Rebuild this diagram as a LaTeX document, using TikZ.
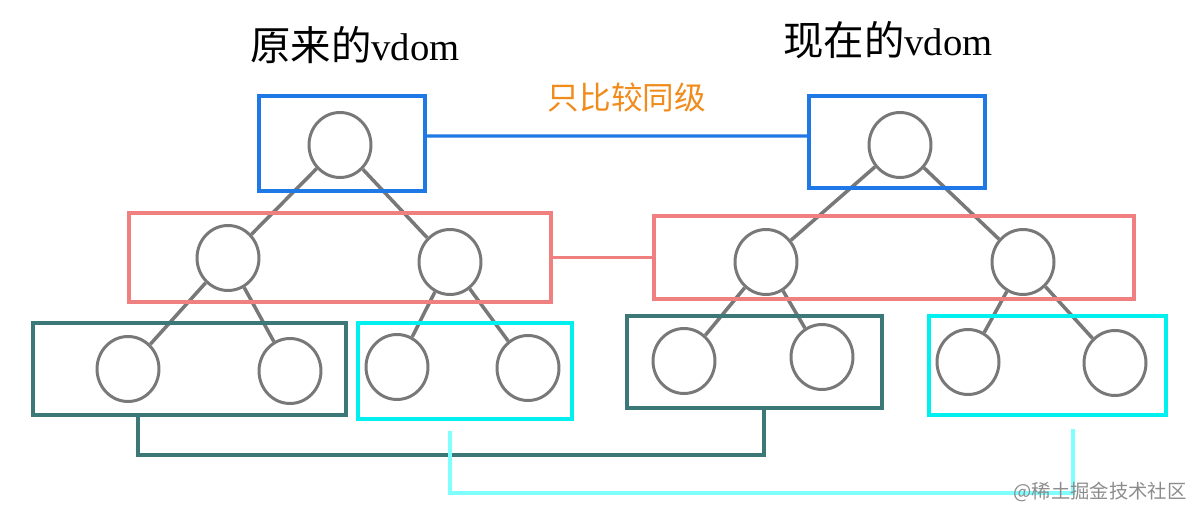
\documentclass[tikz,border=0pt]{standalone}
\usepackage{fontspec}
\usepackage{xcolor}
\usepackage{tikz}
\usetikzlibrary{shapes.geometric,positioning,calc}
\newfontfamily\cjk{Noto Sans CJK SC}
\newfontfamily\vdomfont{Liberation Serif}

\definecolor{boxblue}{RGB}{30,120,230}
\definecolor{boxred}{RGB}{240,128,128}
\definecolor{boxteal}{RGB}{60,120,120}
\definecolor{boxcyan}{RGB}{0,240,240}
\definecolor{linecyan}{RGB}{128,255,255}
\definecolor{vnode}{RGB}{120,120,120}
\definecolor{labelorange}{RGB}{240,140,30}

\begin{document}
\begin{tikzpicture}[x=0.02cm,y=-0.02cm,
	vnode/.style={ellipse, draw=vnode, line width=1.7pt, minimum width=1.24cm, minimum height=1.3cm, inner sep=0pt},
	level/.style={rectangle, draw=#1, line width=2.2pt, inner sep=0pt},
	edge/.style={draw=vnode, line width=2pt},
	link/.style={line width=1.8pt, draw=#1}]

		\useasboundingbox (0,0) rectangle (1197,517);

		% titles
		\node (titleL) at (355,45) {\fontsize{23}{26}\selectfont\cjk 原来的{\vdomfont\fontsize{22}{26}\selectfont vdom}};
		\node (titleR) at (888,40) {\fontsize{23}{26}\selectfont\cjk 现在的{\vdomfont\fontsize{22}{26}\selectfont vdom}};
		\node[text=labelorange] (same) at (627,97) {\fontsize{18}{21}\selectfont\cjk 只比较同级};

		% old vdom
		\node[vnode] (oRoot) at (340,145) {};
		\node[vnode] (oA) at (228,258) {};
		\node[vnode] (oB) at (450,262) {};
		\node[vnode] (oA1) at (128,369) {};
		\node[vnode] (oA2) at (290,371) {};
		\node[vnode] (oB1) at (397,367) {};
		\node[vnode] (oB2) at (528,368) {};

		% new vdom
		\node[vnode] (nRoot) at (900,145) {};
		\node[vnode] (nA) at (766,262) {};
		\node[vnode] (nB) at (1023,262) {};
		\node[vnode] (nA1) at (684,361) {};
		\node[vnode] (nA2) at (822,357) {};
		\node[vnode] (nB1) at (968,362) {};
		\node[vnode] (nB2) at (1115,363) {};

		\draw[edge] (oRoot) -- (oA);
		\draw[edge] (oRoot) -- (oB);
		\draw[edge] (oA) -- (oA1);
		\draw[edge] (oA) -- (oA2);
		\draw[edge] (oB) -- (oB1);
		\draw[edge] (oB) -- (oB2);
		\draw[edge] (nRoot) -- (nA);
		\draw[edge] (nRoot) -- (nB);
		\draw[edge] (nA) -- (nA1);
		\draw[edge] (nA) -- (nA2);
		\draw[edge] (nB) -- (nB1);
		\draw[edge] (nB) -- (nB2);

		% level boxes
		\node[level=boxblue, minimum width=3.32cm, minimum height=1.9cm] (oLvl1) at (342,143.5) {};
		\node[level=boxblue, minimum width=3.52cm, minimum height=1.84cm] (nLvl1) at (897,142) {};
		\node[level=boxred, minimum width=8.44cm, minimum height=1.78cm] (oLvl2) at (340,257.5) {};
		\node[level=boxred, minimum width=9.6cm, minimum height=1.66cm] (nLvl2) at (894,257.5) {};
		\node[level=boxteal, minimum width=6.26cm, minimum height=1.84cm] (oLvl3a) at (189.5,369) {};
		\node[level=boxcyan, minimum width=4.28cm, minimum height=1.92cm] (oLvl3b) at (465,371) {};
		\node[level=boxteal, minimum width=5.1cm, minimum height=1.84cm] (nLvl3a) at (754.5,362) {};
		\node[level=boxcyan, minimum width=4.74cm, minimum height=1.98cm] (nLvl3b) at (1047.5,365.5) {};

		% links between the same levels
		\draw[link=boxblue] ([yshift=0.15cm]oLvl1.east) -- ([yshift=0.12cm]nLvl1.west);
		\draw[link=boxred] (oLvl2.east) -- (nLvl2.west);

		\coordinate (tealA) at (138,455);
		\coordinate (tealB) at (764,455);
		\draw[link=boxteal] (oLvl3a.south -| tealA) -- (tealA) -- (tealB) -- (nLvl3a.south -| tealB);

		\coordinate (cyanA) at (450,493);
		\coordinate (cyanB) at (1073,493);
		\draw[link=linecyan] ([yshift=-0.2cm]oLvl3b.south -| cyanA) -- (cyanA) -- (cyanB) -- ([yshift=-0.24cm]nLvl3b.south -| cyanB);

		% watermark
		\node[text=black!45] (mark) at (1100,492) {\fontsize{11}{13}\selectfont\cjk @稀土掘金技术社区};
	\end{tikzpicture}
\end{document}
